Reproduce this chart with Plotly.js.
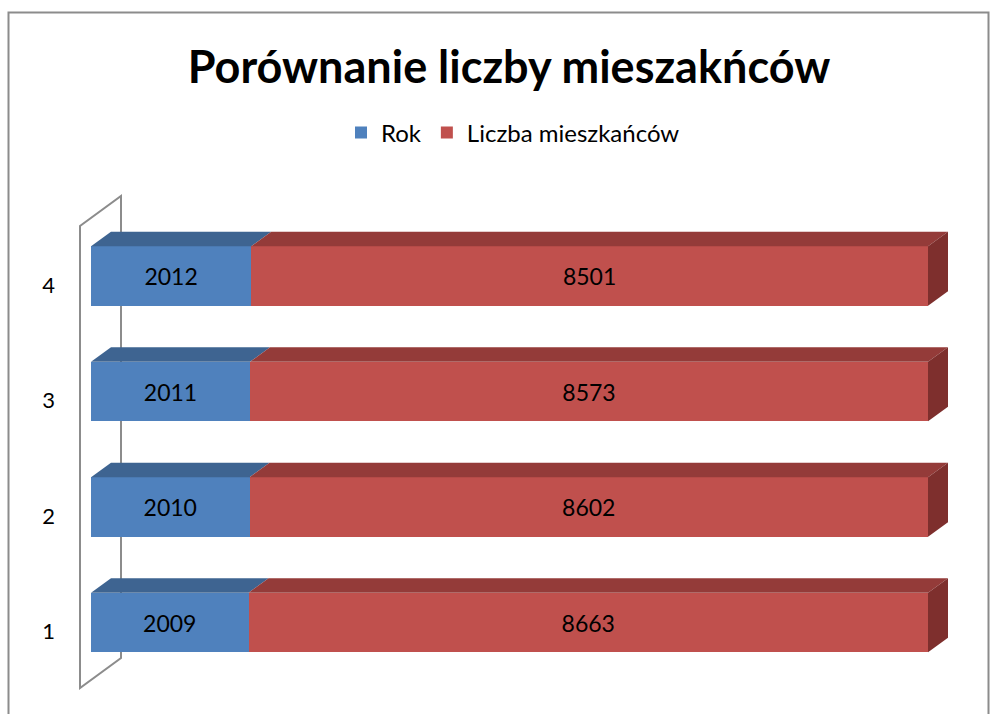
<!DOCTYPE html>
<html>
<head>
<meta charset="utf-8">
<script src="https://cdn.plot.ly/plotly-3.0.1.min.js"></script>
<style>html,body{margin:0;padding:0;background:#fff;}#chart{width:992px;height:714px;}</style>
</head>
<body>
<div id="chart"></div>
<script>
// ---- data ----
const categories = [1, 2, 3, 4];
const tickLabels = ['1', '2', '3', '4'];
const rok = [2009, 2010, 2011, 2012];
const mieszkancy = [8663, 8602, 8573, 8501];
const seriesNames = ['Rok', 'Liczba mieszkańców'];

// ---- style / geometry ----
const W = 992, H = 714;
const FONT = 'Lato, Carlito, Calibri, "Open Sans", sans-serif';
const blue = '#4F81BD', blueTop = '#3E6491';
const red = '#C0504D', redTop = '#943B39', redSide = '#7E2F2D';
const x0px = 91, x100px = 928;           // pixel of 0% and 100%
const y1px = 622.5, pxPerY = 115.5;       // pixel of category 1 and per unit
const xDomPx = [70, 955], yDomPx = [186, 694];
const pxPerX = (x100px - x0px) / 100;
const xRange = [(xDomPx[0] - x0px) / pxPerX, 100 + (xDomPx[1] - x100px) / pxPerX];
const yRange = [1 - (yDomPx[1] - y1px) / pxPerY, 1 + (y1px - yDomPx[0]) / pxPerY];
const barWidth = 0.515;
const depthX = 20 / pxPerX, depthY = 14.5 / pxPerY;

const pct = rok.map((r, i) => r / (r + mieszkancy[i]) * 100);

const traces = [
  {
    type: 'bar', orientation: 'h', name: seriesNames[0],
    y: categories, x: rok, text: rok.map(String),
    marker: {color: blue, line: {width: 0}},
    textposition: 'inside', insidetextanchor: 'middle', textangle: 0,
    constraintext: 'none',
    insidetextfont: {family: FONT, size: 23, color: '#000'},
    hoverinfo: 'skip'
  },
  {
    type: 'bar', orientation: 'h', name: seriesNames[1],
    y: categories, x: mieszkancy, text: mieszkancy.map(String),
    marker: {color: red, line: {width: 0}},
    textposition: 'inside', insidetextanchor: 'middle', textangle: 0,
    constraintext: 'none',
    insidetextfont: {family: FONT, size: 23, color: '#000'},
    hoverinfo: 'skip'
  }
];

const shapes = [];
function poly(pts, color, layer) {
  const d = pts.map((p, i) => (i ? 'L' : 'M') + p[0] + ',' + p[1]).join(' ') + ' Z';
  shapes.push({type: 'path', xref: 'x', yref: 'y', path: d, fillcolor: color,
    line: {width: 0}, layer: layer || 'above'});
}
categories.forEach((c, i) => {
  const top = c + barWidth / 2, bot = c - barWidth / 2;
  const p = pct[i];
  // top faces
  poly([[0, top], [p, top], [p + depthX, top + depthY], [depthX, top + depthY]], blueTop);
  poly([[p, top], [100, top], [100 + depthX, top + depthY], [p + depthX, top + depthY]], redTop);
  // right side face
  poly([[100, top], [100 + depthX, top + depthY], [100 + depthX, bot + depthY], [100, bot]], redSide);
});

// back wall (axis decoration)
const wf = -11 / pxPerX, wb = wf + 41 / pxPerX;
const wBot = 1 - (688 - y1px) / pxPerY, wTop = 1 + (y1px - 226) / pxPerY, wd = 30 / pxPerY;
shapes.push({type: 'path', xref: 'x', yref: 'y', layer: 'below',
  path: `M${wf},${wBot} L${wf},${wTop} L${wb},${wTop + wd} L${wb},${wBot + wd} Z`,
  fillcolor: 'rgba(0,0,0,0)', line: {color: '#8C8C8C', width: 2}});

// chart frame
shapes.push({type: 'rect', xref: 'paper', yref: 'paper',
  x0: 8.5 / W, x1: 988.5 / W, y0: -0.05, y1: (H - 12.5) / H,
  line: {color: '#8C8C8C', width: 2}, fillcolor: 'rgba(0,0,0,0)', layer: 'below'});

const layout = {
  width: W, height: H,
  margin: {l: 0, r: 0, t: 0, b: 0},
  paper_bgcolor: '#fff', plot_bgcolor: 'rgba(0,0,0,0)',
  barmode: 'stack', barnorm: 'percent', bargap: 1 - barWidth,
  showlegend: true,
  title: {text: '<b>Porównanie liczby mieszakńców</b>', font: {family: FONT, size: 45, color: '#000'},
    x: 509 / W, xanchor: 'center', y: (H - 67) / H, yanchor: 'middle', xref: 'paper', yref: 'paper'},
  legend: {orientation: 'h', x: 513 / W, xanchor: 'center', y: (H - 133) / H, yanchor: 'middle',
    font: {family: FONT, size: 24, color: '#000'}, itemclick: false, traceorder: 'normal'},
  xaxis: {domain: [xDomPx[0] / W, xDomPx[1] / W], range: xRange, visible: false, fixedrange: true},
  yaxis: {domain: [(H - yDomPx[1]) / H, (H - yDomPx[0]) / H], range: yRange,
    tickvals: categories, ticktext: tickLabels, showgrid: false, zeroline: false, showline: false,
    ticks: '', ticklabelstandoff: 14, ticklabelshift: 9,
    tickfont: {family: FONT, size: 22, color: '#000'}, fixedrange: true},
  shapes: shapes
};

Plotly.newPlot('chart', traces, layout, {displayModeBar: false, staticPlot: true});
</script>
</body>
</html>
